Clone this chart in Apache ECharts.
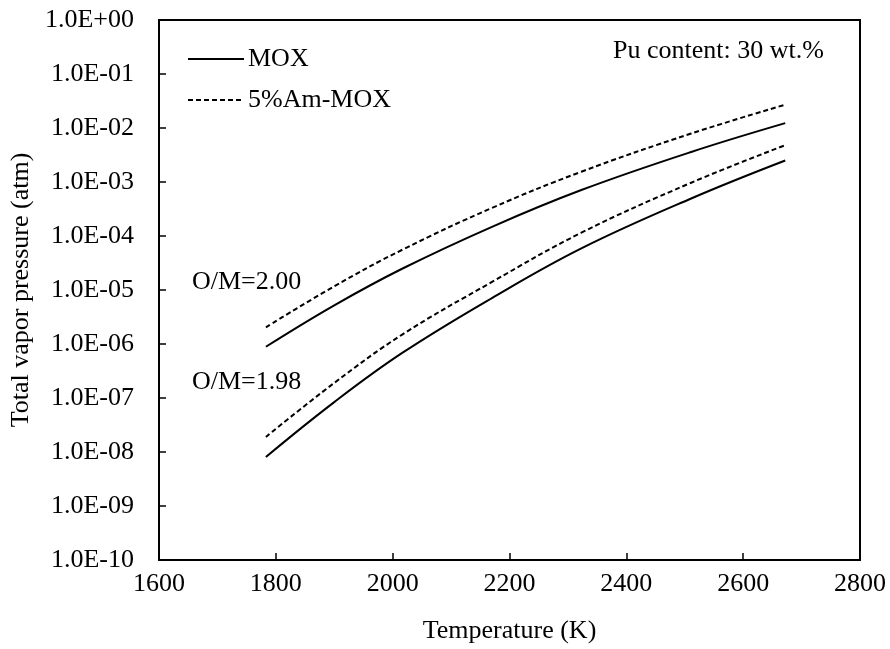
<!DOCTYPE html>
<html><head><meta charset="utf-8">
<script src="https://cdn.jsdelivr.net/npm/echarts@6/dist/echarts.min.js"></script>
<style>html,body{margin:0;padding:0;background:#fff}#c{width:890px;height:649px}</style>
</head><body><div id="c"></div>
<script>
// Temperatures (K) at which values were read
const temps = [1783, 1900, 2017, 2170, 2323, 2511, 2672];
// Total vapor pressure (atm)
const moxOM200 = [8.9e-7, 5.2e-6, 2.5e-5, 1.48e-4, 7.1e-4, 3.6e-3, 1.23e-2];
const amOM200  = [2.04e-6, 1.17e-5, 5.6e-5, 3.31e-4, 1.55e-3, 7.9e-3, 2.7e-2];
const amOM198  = [1.9e-8, 1.9e-7, 1.51e-6, 1.41e-5, 1.15e-4, 9.7e-4, 4.8e-3];
const moxOM198 = [8.1e-9, 8.4e-8, 6.9e-7, 7.1e-6, 5.9e-5, 4.95e-4, 2.5e-3];
const legendNames = ['MOX', '5%Am-MOX'];
const xTicks = [1600, 2800, 200];
const yRange = [1e-10, 1];

const font = 'Liberation Serif';
const pairs = a => temps.map((t, i) => [t, a[i]]);
const solid = {color: '#000', width: 2, type: 'solid'};
const dashed = {color: '#000', width: 2, type: [5, 3]};
function mk(name, data, ls) {
  return {name, type: 'line', data: pairs(data), smooth: 0.4, showSymbol: false, symbol: 'none',
    lineStyle: ls, itemStyle: {color: '#000'}, silent: true};
}
const chart = echarts.init(document.getElementById('c'));
chart.setOption({
  animation: false,
  backgroundColor: '#fff',
  grid: {left: 155, right: 30, top: 20, bottom: 88, show: true, borderColor: '#000', borderWidth: 2},
  legend: {
    data: legendNames, orient: 'vertical', left: 182, top: 41, itemWidth: 56, itemHeight: 14, itemGap: 15,
    itemStyle: {opacity: 0, borderWidth: 0},
    textStyle: {fontFamily: font, fontSize: 26, color: '#000', padding: [0, 0, 0, -1]}
  },
  xAxis: {
    type: 'value', min: xTicks[0], max: xTicks[1], interval: xTicks[2],
    name: 'Temperature (K)', nameLocation: 'middle', nameGap: 58,
    nameTextStyle: {fontFamily: font, fontSize: 26, color: '#000'},
    axisLine: {show: true, lineStyle: {color: '#000', width: 2}},
    axisTick: {show: true, inside: true, length: 7, lineStyle: {color: '#000', width: 1.5}},
    axisLabel: {fontFamily: font, fontSize: 26, color: '#000', margin: 11, formatter: v => String(v)},
    splitLine: {show: false}
  },
  yAxis: {
    type: 'log', logBase: 10, min: yRange[0], max: yRange[1], interval: 1,
    name: 'Total vapor pressure (atm)', nameLocation: 'middle', nameGap: 125,
    nameTextStyle: {fontFamily: font, fontSize: 26, color: '#000'},
    axisLine: {show: true, lineStyle: {color: '#000', width: 2}},
    axisTick: {show: true, inside: true, length: 7, lineStyle: {color: '#000', width: 1.5}},
    axisLabel: {fontFamily: font, fontSize: 26, color: '#000', margin: 25,
      formatter: v => {
        const e = Math.round(Math.log10(v));
        const s = e < 0 ? '-' : '+';
        const a = Math.abs(e);
        return '1.0E' + s + (a < 10 ? '0' + a : '' + a);
      }},
    splitLine: {show: false}
  },
  graphic: [
    {type: 'text', left: 613, top: 38, style: {text: 'Pu content: 30 wt.%', fontFamily: font, fontSize: 26, fill: '#000'}},
    {type: 'text', left: 192, top: 269, style: {text: 'O/M=2.00', fontFamily: font, fontSize: 26, fill: '#000'}},
    {type: 'text', left: 192, top: 369, style: {text: 'O/M=1.98', fontFamily: font, fontSize: 26, fill: '#000'}}
  ],
  series: [
    mk('MOX', moxOM200, solid),
    mk('5%Am-MOX', amOM200, dashed),
    mk('5%Am-MOX', amOM198, dashed),
    mk('MOX', moxOM198, solid)
  ]
});
</script></body></html>
